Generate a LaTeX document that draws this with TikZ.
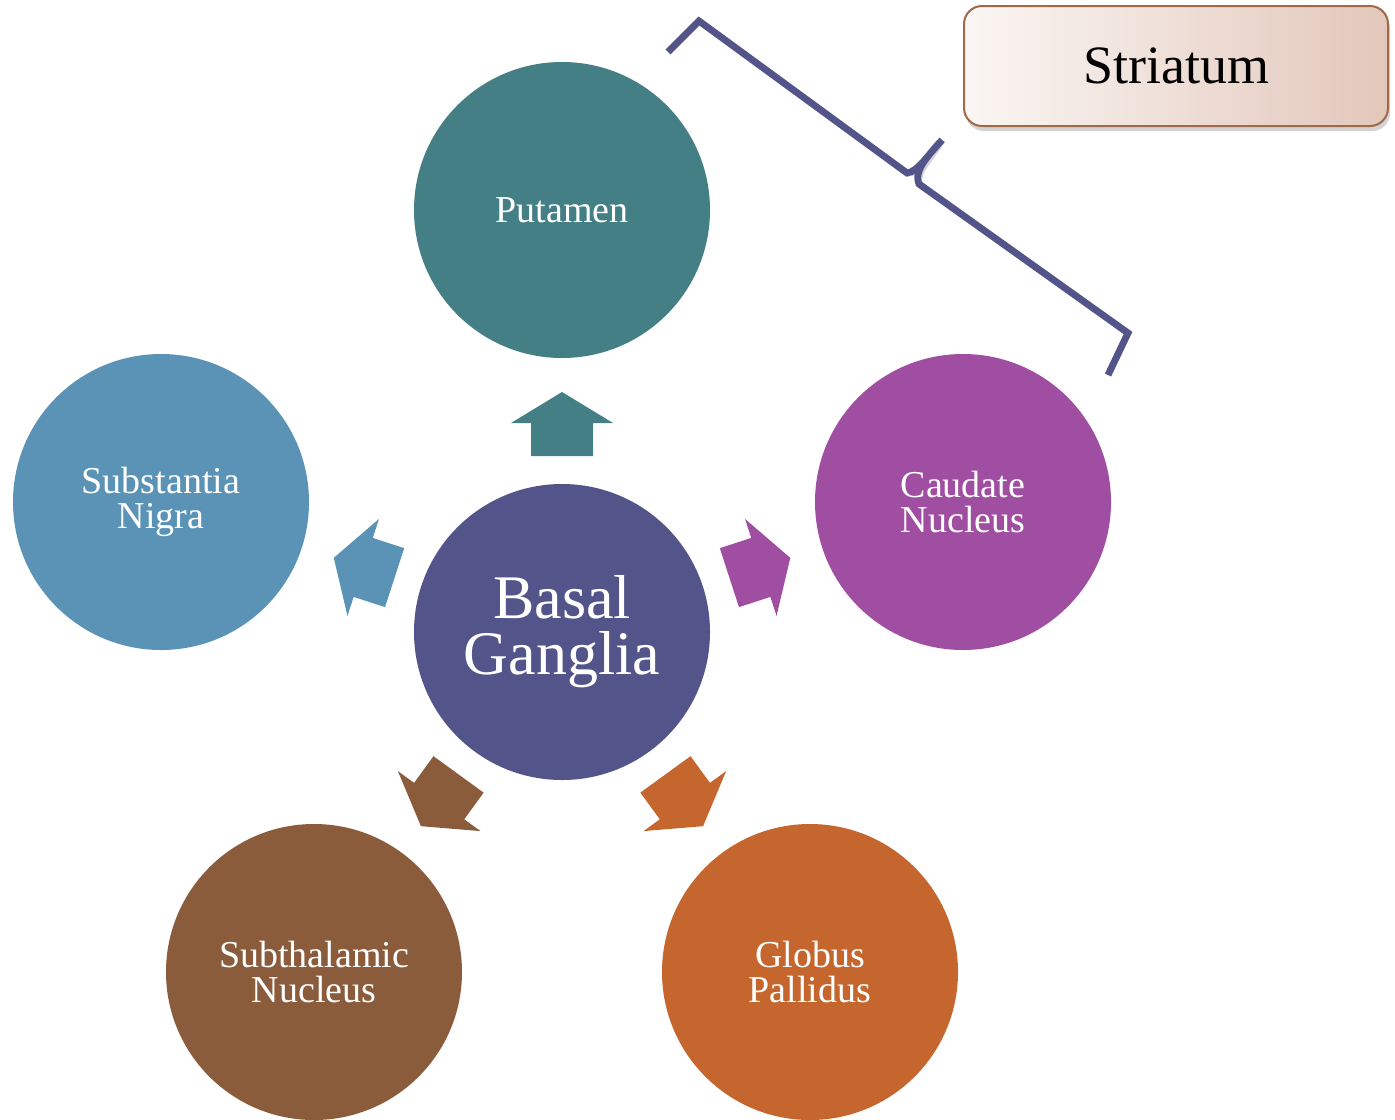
\documentclass[tikz,border=0pt]{standalone}
\usepackage{fontspec}
\setmainfont{Liberation Serif}
\usetikzlibrary{shadows}
\definecolor{cPut}{HTML}{437F84}
\definecolor{cBas}{HTML}{53558A}
\definecolor{cSub}{HTML}{5B93B7}
\definecolor{cCau}{HTML}{A04EA2}
\definecolor{cSth}{HTML}{8A5C3B}
\definecolor{cGlo}{HTML}{C5662E}
\definecolor{cBoxL}{HTML}{FAF6F3}
\definecolor{cBoxR}{HTML}{E3C7BB}
\definecolor{cBoxB}{HTML}{A06A4A}
\begin{document}
\begin{tikzpicture}[x=0.5pt,y=0.5pt,
  circ/.style={circle, minimum size=148pt, inner sep=0pt, text=white, align=center,
    font=\fontsize{19}{17.5}\selectfont},
  bigcirc/.style={circ, font=\fontsize{31}{28}\selectfont},
  bracestyle/.style={line width=3.4pt, line join=miter},
  labelbox/.style={rounded corners=9pt, draw=cBoxB, line width=1pt,
    minimum width=212pt, minimum height=60pt, shading=axis, left color=cBoxL, right color=cBoxR,
    drop shadow={shadow xshift=1pt, shadow yshift=-2.5pt, opacity=0.35},
    font=\fontsize{27}{30}\selectfont, text=black}]
\useasboundingbox (0,0) rectangle (1395,-1119);
% brace
\path (668,-52) coordinate (b1) (699,-21) coordinate (b2) (907,-173) coordinate (b3)
  (942,-140) coordinate (b4) (919,-184) coordinate (b5) (1128,-333) coordinate (b6) (1108,-375) coordinate (b7);
\draw[bracestyle, black!35, opacity=0.5, shift={(2,-3)}] (b1) -- (b2) -- (b3) .. controls (918,-172) and (930,-152) .. (b4) .. controls (930,-154) and (913,-170) .. (b5) -- (b6) -- (b7);
\draw[bracestyle, cBas] (b1) -- (b2) -- (b3) .. controls (918,-172) and (930,-152) .. (b4) .. controls (930,-154) and (913,-170) .. (b5) -- (b6) -- (b7);
% circles
\node[bigcirc, fill=cBas] (bg) at (562,-632) {Basal\\Ganglia};
\node[circ, fill=cPut] (put) at (562,-210) {Putamen};
\node[circ, fill=cCau] (cau) at (963,-502) {Caudate\\Nucleus};
\node[circ, fill=cSub] (sub) at (161,-502) {Substantia\\Nigra};
\node[circ, fill=cSth] (sth) at (314,-972) {Subthalamic\\Nucleus};
\node[circ, fill=cGlo] (glo) at (810,-972) {Globus\\Pallidus};
% block arrows
\foreach \a/\c in {90/cPut, 18/cCau, 162/cSub, 234/cSth, 306/cGlo}{
  \begin{scope}[shift={(bg.center)}, rotate=\a]
    \fill[\c] (176,31) -- (209,31) -- (209,51) -- (240,0) -- (209,-51) -- (209,-31) -- (176,-31) -- cycle;
  \end{scope}
}
% label box
\node[labelbox] (str) at (1176,-66) {Striatum};
\end{tikzpicture}
\end{document}
